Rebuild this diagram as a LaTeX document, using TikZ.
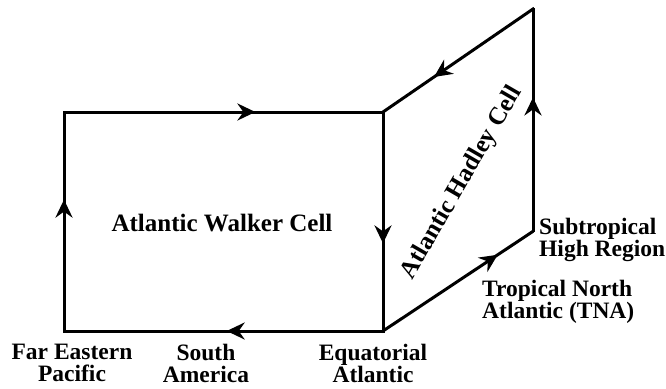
\documentclass[tikz,border=0pt]{standalone}
\usepackage{fontspec}
\setmainfont{Liberation Serif}
\usetikzlibrary{arrows.meta,decorations.markings}
\tikzset{
  cellline/.style={line width=3pt, line cap=rect, line join=miter},
  midarrow/.style={postaction={decorate}, decoration={markings,
     mark=at position #1 with {\arrow{Stealth[length=18pt,width=17pt,inset=6pt]}}}},
  celllbl/.style={font=\fontsize{25}{22.5}\selectfont\bfseries, inner sep=0pt, align=center},
  lbl/.style={font=\fontsize{23.5}{22}\selectfont\bfseries, inner sep=0pt, align=center},
  lbll/.style={font=\fontsize{23.5}{22.5}\selectfont\bfseries, inner sep=0pt, align=left},
}
\begin{document}
\begin{tikzpicture}[x=1pt,y=-1pt]
\useasboundingbox (0,0) rectangle (666,388);
\coordinate (FE) at (64,331);
\coordinate (TL) at (64,112);
\coordinate (TR) at (383,112);
\coordinate (EA) at (383,331);
\coordinate (ST) at (532,232);
\coordinate (SB) at (533,230);
\coordinate (HT) at (533,9);
% Walker cell
\draw[cellline, midarrow=0.6] (TL) -- (TR);
\draw[cellline, midarrow=0.6] (TR) -- (EA);
\draw[cellline, midarrow=0.49] (EA) -- (FE);
\draw[cellline, midarrow=0.6] (FE) -- (TL);
% Hadley cell
\draw[cellline, midarrow=0.77] (EA) -- (ST);
\draw[cellline, midarrow=0.6] (SB) -- (HT);
\draw[cellline, midarrow=0.66] (HT) -- (TR);
% labels
\node[celllbl] (walker) at (222,223) {Atlantic Walker Cell};
\node[celllbl, rotate=60] (hadley) at (462,183) {Atlantic Hadley Cell};
\node[lbl] (fep) at (72,363) {Far Eastern\\Pacific};
\node[lbl] (sam) at (206,363) {South\\America};
\node[lbl] (eqa) at (373,363) {Equatorial\\Atlantic};
\node[lbll, anchor=west] (tna) at (482,302) {Tropical North\\Atlantic (TNA)};
\node[lbll, anchor=west] (sub) at (539,240) {Subtropical\\High Region};
\end{tikzpicture}
\end{document}
